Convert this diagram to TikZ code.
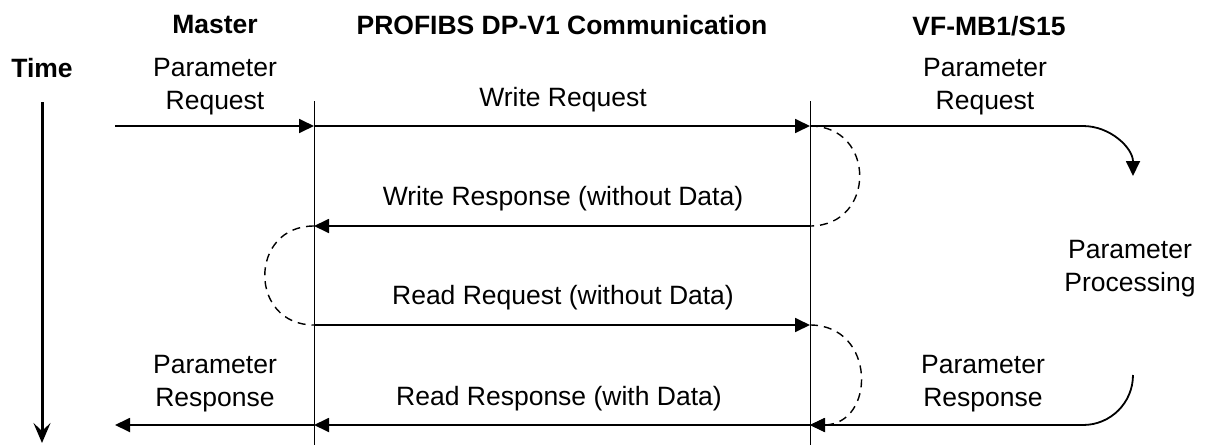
\documentclass[tikz,border=0pt]{standalone}
\usepackage{fontspec}
\setmainfont{Liberation Sans}
\usetikzlibrary{arrows.meta}
\newcommand{\diafont}{\fontsize{13.25pt}{16.5pt}\selectfont}
\tikzset{
  lifeline/.style={draw, line width=0.5pt},
  msg arrow/.style={draw, line width=0.9pt, -{Triangle[length=7.5pt,width=7pt]}},
  wait loop/.style={draw, line width=0.7pt, dash pattern=on 4pt off 3pt},
  time axis/.style={draw, line width=1.5pt, -{Stealth[length=10pt,width=8.5pt,inset=4pt]}},
  head text/.style={font=\diafont\bfseries, inner sep=0pt},
  msg text/.style={font=\diafont, align=center, inner sep=0pt}
}

\begin{document}
\begin{tikzpicture}[x=0.5pt, y=-0.5pt]
  \useasboundingbox (0,0) rectangle (1206,445);

  % headings
  \node[head text] (hmaster) at (215,25) {Master};
  \node[head text] (hbus)    at (562,25) {PROFIBS DP-V1 Communication};
  \node[head text] (hslave)  at (989,26) {VF-MB1/S15};
  \node[head text] (htime)   at (42,68)  {Time};

  % lifelines and time axis
  \coordinate (mtop) at (314,101);
  \coordinate (mbot) at (314,445);
  \coordinate (stop) at (810,101);
  \coordinate (sbot) at (810,445);
  \coordinate (ttop) at (42,102);
  \coordinate (tbot) at (42,443);
  \draw[lifeline] (mtop) -- (mbot);
  \draw[lifeline] (stop) -- (sbot);
  \draw[time axis] (ttop) -- (tbot);

  % message rows
  \coordinate (a1) at (115,126);  \coordinate (a4) at (115,425);
  \coordinate (m1) at (314,126);  \coordinate (m2) at (314,226);
  \coordinate (m3) at (314,325);  \coordinate (m4) at (314,425);
  \coordinate (s1) at (810,126);  \coordinate (s2) at (810,226);
  \coordinate (s3) at (810,325);  \coordinate (s4) at (810,425);
  \coordinate (p1) at (1083,126); \coordinate (q1) at (1133,176);
  \coordinate (q4) at (1133,375); \coordinate (p4) at (1083,425);

  \draw[msg arrow] (a1) -- (m1);
  \draw[msg arrow] (m1) -- (s1);
  \draw[msg arrow] (s1) -- (p1) to[out=0,in=90] (q1);
  \draw[msg arrow] (s2) -- (m2);
  \draw[msg arrow] (m3) -- (s3);
  \draw[msg arrow] (q4) to[out=-90,in=0] (p4) -- (s4);
  \draw[msg arrow] (s4) -- (m4);
  \draw[msg arrow] (m4) -- (a4);

  % waiting loops
  \draw[wait loop] (s1) to[out=0,in=0,looseness=1.7] (s2);
  \draw[wait loop] (m2) to[out=180,in=180,looseness=1.7] (m3);
  \draw[wait loop, -{Triangle[length=7pt,width=6.5pt]}] (s3) to[out=0,in=0,looseness=1.7] (s4);

  % labels
  \node[msg text] (lreqm) at (215,87)   {Parameter\\Request};
  \node[msg text] (lreqs) at (985,87)   {Parameter\\Request};
  \node[msg text] (lwreq) at (563,100)  {Write Request};
  \node[msg text] (lwres) at (563,199)  {Write Response (without Data)};
  \node[msg text] (lrreq) at (563,298)  {Read Request (without Data)};
  \node[msg text] (lrres) at (559,399)  {Read Response (with Data)};
  \node[msg text] (lproc) at (1130,269) {Parameter\\Processing};
  \node[msg text] (lresm) at (215,384)  {Parameter\\Response};
  \node[msg text] (lress) at (983,384)  {Parameter\\Response};
\end{tikzpicture}
\end{document}
